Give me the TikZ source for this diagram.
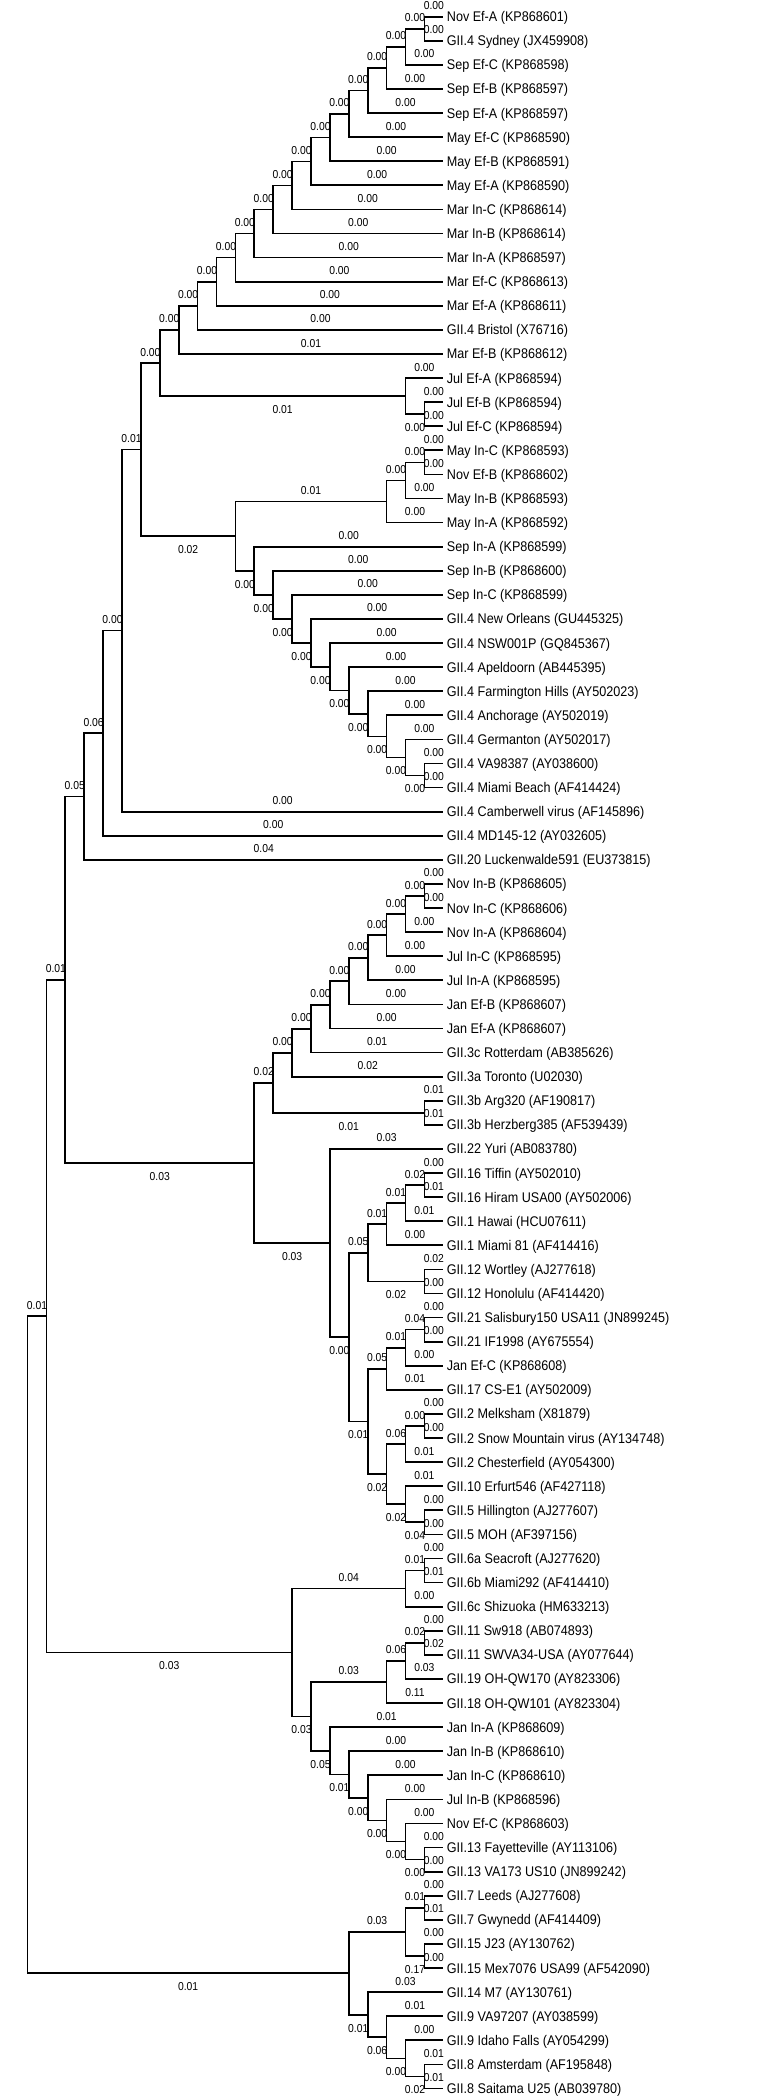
\documentclass[tikz,border=0pt]{standalone}
\usepackage{fontspec}
\setmainfont{Liberation Sans}[FakeStretch=0.9]
\usetikzlibrary{calc}
\def\LX{443.3}
\def\LS{24.09}
\def\HS{18.9}
\tikzset{
  branch/.style={line width=1.7pt},
  laba/.style={above, inner sep=0pt, yshift=6pt, font=\fontsize{11.5}{12}\selectfont},
  labb/.style={below, inner sep=0pt, yshift=-8.5pt, font=\fontsize{11.5}{12}\selectfont},
  leaftext/.style={anchor=base west, inner sep=0pt, font=\fontsize{14}{16}\selectfont}
}
\newcommand\tleaf[3]{%
  \coordinate (L#1) at (\LX, {16.7+\LS*(#1-1)});
  \node[leaftext] (T#1) at (446.7, {16.7+\LS*(#1-1)+5}) {#2 (#3)};
}
\newcommand\tnode[4]{%
  \path let \p1=(#3), \p2=(#4) in coordinate (#1) at ({\LX-\HS*#2}, {0.5*(\y1+\y2)});
}
\newcommand\tedge[4]{\draw[branch] (#1) |- (#2) node[pos=0.75, lab#4] {#3};}
\begin{document}
\begin{tikzpicture}[x=1pt,y=-1pt]
\useasboundingbox (0,0) rectangle (781,2096);
% leaves
\tleaf{1}{Nov Ef-A}{KP868601}
\tleaf{2}{GII.4 Sydney}{JX459908}
\tleaf{3}{Sep Ef-C}{KP868598}
\tleaf{4}{Sep Ef-B}{KP868597}
\tleaf{5}{Sep Ef-A}{KP868597}
\tleaf{6}{May Ef-C}{KP868590}
\tleaf{7}{May Ef-B}{KP868591}
\tleaf{8}{May Ef-A}{KP868590}
\tleaf{9}{Mar In-C}{KP868614}
\tleaf{10}{Mar In-B}{KP868614}
\tleaf{11}{Mar In-A}{KP868597}
\tleaf{12}{Mar Ef-C}{KP868613}
\tleaf{13}{Mar Ef-A}{KP868611}
\tleaf{14}{GII.4 Bristol}{X76716}
\tleaf{15}{Mar Ef-B}{KP868612}
\tleaf{16}{Jul Ef-A}{KP868594}
\tleaf{17}{Jul Ef-B}{KP868594}
\tleaf{18}{Jul Ef-C}{KP868594}
\tleaf{19}{May In-C}{KP868593}
\tleaf{20}{Nov Ef-B}{KP868602}
\tleaf{21}{May In-B}{KP868593}
\tleaf{22}{May In-A}{KP868592}
\tleaf{23}{Sep In-A}{KP868599}
\tleaf{24}{Sep In-B}{KP868600}
\tleaf{25}{Sep In-C}{KP868599}
\tleaf{26}{GII.4 New Orleans}{GU445325}
\tleaf{27}{GII.4 NSW001P}{GQ845367}
\tleaf{28}{GII.4 Apeldoorn}{AB445395}
\tleaf{29}{GII.4 Farmington Hills}{AY502023}
\tleaf{30}{GII.4 Anchorage}{AY502019}
\tleaf{31}{GII.4 Germanton}{AY502017}
\tleaf{32}{GII.4 VA98387}{AY038600}
\tleaf{33}{GII.4 Miami Beach}{AF414424}
\tleaf{34}{GII.4 Camberwell virus}{AF145896}
\tleaf{35}{GII.4 MD145-12}{AY032605}
\tleaf{36}{GII.20 Luckenwalde591}{EU373815}
\tleaf{37}{Nov In-B}{KP868605}
\tleaf{38}{Nov In-C}{KP868606}
\tleaf{39}{Nov In-A}{KP868604}
\tleaf{40}{Jul In-C}{KP868595}
\tleaf{41}{Jul In-A}{KP868595}
\tleaf{42}{Jan Ef-B}{KP868607}
\tleaf{43}{Jan Ef-A}{KP868607}
\tleaf{44}{GII.3c Rotterdam}{AB385626}
\tleaf{45}{GII.3a Toronto}{U02030}
\tleaf{46}{GII.3b Arg320}{AF190817}
\tleaf{47}{GII.3b Herzberg385}{AF539439}
\tleaf{48}{GII.22 Yuri}{AB083780}
\tleaf{49}{GII.16 Tiffin}{AY502010}
\tleaf{50}{GII.16 Hiram USA00}{AY502006}
\tleaf{51}{GII.1 Hawai}{HCU07611}
\tleaf{52}{GII.1 Miami 81}{AF414416}
\tleaf{53}{GII.12 Wortley}{AJ277618}
\tleaf{54}{GII.12 Honolulu}{AF414420}
\tleaf{55}{GII.21 Salisbury150 USA11}{JN899245}
\tleaf{56}{GII.21 IF1998}{AY675554}
\tleaf{57}{Jan Ef-C}{KP868608}
\tleaf{58}{GII.17 CS-E1}{AY502009}
\tleaf{59}{GII.2 Melksham}{X81879}
\tleaf{60}{GII.2 Snow Mountain virus}{AY134748}
\tleaf{61}{GII.2 Chesterfield}{AY054300}
\tleaf{62}{GII.10 Erfurt546}{AF427118}
\tleaf{63}{GII.5 Hillington}{AJ277607}
\tleaf{64}{GII.5 MOH}{AF397156}
\tleaf{65}{GII.6a Seacroft}{AJ277620}
\tleaf{66}{GII.6b Miami292}{AF414410}
\tleaf{67}{GII.6c Shizuoka}{HM633213}
\tleaf{68}{GII.11 Sw918}{AB074893}
\tleaf{69}{GII.11 SWVA34-USA}{AY077644}
\tleaf{70}{GII.19 OH-QW170}{AY823306}
\tleaf{71}{GII.18 OH-QW101}{AY823304}
\tleaf{72}{Jan In-A}{KP868609}
\tleaf{73}{Jan In-B}{KP868610}
\tleaf{74}{Jan In-C}{KP868610}
\tleaf{75}{Jul In-B}{KP868596}
\tleaf{76}{Nov Ef-C}{KP868603}
\tleaf{77}{GII.13 Fayetteville}{AY113106}
\tleaf{78}{GII.13 VA173 US10}{JN899242}
\tleaf{79}{GII.7 Leeds}{AJ277608}
\tleaf{80}{GII.7 Gwynedd}{AF414409}
\tleaf{81}{GII.15 J23}{AY130762}
\tleaf{82}{GII.15 Mex7076 USA99}{AF542090}
\tleaf{83}{GII.14 M7}{AY130761}
\tleaf{84}{GII.9 VA97207}{AY038599}
\tleaf{85}{GII.9 Idaho Falls}{AY054299}
\tleaf{86}{GII.8 Amsterdam}{AF195848}
\tleaf{87}{GII.8 Saitama U25}{AB039780}
% internal nodes
\tnode{a1}{1}{L1}{L2}
\tnode{a2}{2}{a1}{L3}
\tnode{a3}{3}{a2}{L4}
\tnode{a4}{4}{a3}{L5}
\tnode{a5}{5}{a4}{L6}
\tnode{a6}{6}{a5}{L7}
\tnode{a7}{7}{a6}{L8}
\tnode{a8}{8}{a7}{L9}
\tnode{a9}{9}{a8}{L10}
\tnode{a10}{10}{a9}{L11}
\tnode{a11}{11}{a10}{L12}
\tnode{a12}{12}{a11}{L13}
\tnode{a13}{13}{a12}{L14}
\tnode{a14}{14}{a13}{L15}
\tnode{b1}{1}{L17}{L18}
\tnode{b2}{2}{L16}{b1}
\tnode{a15}{15}{a14}{b2}
\tnode{c1}{1}{L19}{L20}
\tnode{c2}{2}{c1}{L21}
\tnode{c3}{3}{c2}{L22}
\tnode{d1}{1}{L32}{L33}
\tnode{d2}{2}{L31}{d1}
\tnode{d3}{3}{L30}{d2}
\tnode{d4}{4}{L29}{d3}
\tnode{d5}{5}{L28}{d4}
\tnode{d6}{6}{L27}{d5}
\tnode{d7}{7}{L26}{d6}
\tnode{d8}{8}{L25}{d7}
\tnode{d9}{9}{L24}{d8}
\tnode{d10}{10}{L23}{d9}
\tnode{e11}{11}{c3}{d10}
\tnode{a16}{16}{a15}{e11}
\tnode{a17}{17}{a16}{L34}
\tnode{a18}{18}{a17}{L35}
\tnode{a19}{19}{a18}{L36}
\tnode{f1}{1}{L37}{L38}
\tnode{f2}{2}{f1}{L39}
\tnode{f3}{3}{f2}{L40}
\tnode{f4}{4}{f3}{L41}
\tnode{f5}{5}{f4}{L42}
\tnode{f6}{6}{f5}{L43}
\tnode{f7}{7}{f6}{L44}
\tnode{f8}{8}{f7}{L45}
\tnode{g1}{1}{L46}{L47}
\tnode{f9}{9}{f8}{g1}
\tnode{i1}{1}{L49}{L50}
\tnode{i2}{2}{i1}{L51}
\tnode{i3}{3}{i2}{L52}
\tnode{j1}{1}{L53}{L54}
\tnode{i4}{4}{i3}{j1}
\tnode{k1}{1}{L55}{L56}
\tnode{k2}{2}{k1}{L57}
\tnode{k3}{3}{k2}{L58}
\tnode{m1}{1}{L59}{L60}
\tnode{m2}{2}{m1}{L61}
\tnode{n1}{1}{L63}{L64}
\tnode{n2}{2}{L62}{n1}
\tnode{m3}{3}{m2}{n2}
\tnode{k4}{4}{k3}{m3}
\tnode{i5}{5}{i4}{k4}
\tnode{i6}{6}{L48}{i5}
\tnode{f10}{10}{f9}{i6}
\tnode{p1}{1}{L65}{L66}
\tnode{p2}{2}{p1}{L67}
\tnode{q1}{1}{L68}{L69}
\tnode{q2}{2}{q1}{L70}
\tnode{q3}{3}{q2}{L71}
\tnode{r1}{1}{L77}{L78}
\tnode{r2}{2}{L76}{r1}
\tnode{r3}{3}{L75}{r2}
\tnode{r4}{4}{L74}{r3}
\tnode{r5}{5}{L73}{r4}
\tnode{r6}{6}{L72}{r5}
\tnode{s7}{7}{q3}{r6}
\tnode{s8}{8}{p2}{s7}
\tnode{t1}{1}{L79}{L80}
\tnode{u1}{1}{L81}{L82}
\tnode{t2}{2}{t1}{u1}
\tnode{v1}{1}{L86}{L87}
\tnode{v2}{2}{L85}{v1}
\tnode{v3}{3}{L84}{v2}
\tnode{v4}{4}{L83}{v3}
\tnode{w5}{5}{t2}{v4}
\tnode{N20}{20}{a19}{f10}
\tnode{N21}{21}{N20}{s8}
\tnode{R}{22}{N21}{w5}
% edges: top clade
\tedge{a1}{L1}{0.00}{a}\tedge{a1}{L2}{0.00}{a}
\tedge{a2}{a1}{0.00}{a}\tedge{a2}{L3}{0.00}{a}
\tedge{a3}{a2}{0.00}{a}\tedge{a3}{L4}{0.00}{a}
\tedge{a4}{a3}{0.00}{a}\tedge{a4}{L5}{0.00}{a}
\tedge{a5}{a4}{0.00}{a}\tedge{a5}{L6}{0.00}{a}
\tedge{a6}{a5}{0.00}{a}\tedge{a6}{L7}{0.00}{a}
\tedge{a7}{a6}{0.00}{a}\tedge{a7}{L8}{0.00}{a}
\tedge{a8}{a7}{0.00}{a}\tedge{a8}{L9}{0.00}{a}
\tedge{a9}{a8}{0.00}{a}\tedge{a9}{L10}{0.00}{a}
\tedge{a10}{a9}{0.00}{a}\tedge{a10}{L11}{0.00}{a}
\tedge{a11}{a10}{0.00}{a}\tedge{a11}{L12}{0.00}{a}
\tedge{a12}{a11}{0.00}{a}\tedge{a12}{L13}{0.00}{a}
\tedge{a13}{a12}{0.00}{a}\tedge{a13}{L14}{0.00}{a}
\tedge{a14}{a13}{0.00}{a}\tedge{a14}{L15}{0.01}{a}
\tedge{b1}{L17}{0.00}{a}\tedge{b1}{L18}{0.00}{a}
\tedge{b2}{L16}{0.00}{a}\tedge{b2}{b1}{0.00}{b}
\tedge{a15}{a14}{0.00}{a}\tedge{a15}{b2}{0.01}{b}
\tedge{c1}{L19}{0.00}{a}\tedge{c1}{L20}{0.00}{a}
\tedge{c2}{c1}{0.00}{a}\tedge{c2}{L21}{0.00}{a}
\tedge{c3}{c2}{0.00}{a}\tedge{c3}{L22}{0.00}{a}
\tedge{d1}{L32}{0.00}{a}\tedge{d1}{L33}{0.00}{a}
\tedge{d2}{L31}{0.00}{a}\tedge{d2}{d1}{0.00}{b}
\tedge{d3}{L30}{0.00}{a}\tedge{d3}{d2}{0.00}{b}
\tedge{d4}{L29}{0.00}{a}\tedge{d4}{d3}{0.00}{b}
\tedge{d5}{L28}{0.00}{a}\tedge{d5}{d4}{0.00}{b}
\tedge{d6}{L27}{0.00}{a}\tedge{d6}{d5}{0.00}{b}
\tedge{d7}{L26}{0.00}{a}\tedge{d7}{d6}{0.00}{b}
\tedge{d8}{L25}{0.00}{a}\tedge{d8}{d7}{0.00}{b}
\tedge{d9}{L24}{0.00}{a}\tedge{d9}{d8}{0.00}{b}
\tedge{d10}{L23}{0.00}{a}\tedge{d10}{d9}{0.00}{b}
\tedge{e11}{c3}{0.01}{a}\tedge{e11}{d10}{0.00}{b}
\tedge{a16}{a15}{0.00}{a}\tedge{a16}{e11}{0.02}{b}
\tedge{a17}{a16}{0.01}{a}\tedge{a17}{L34}{0.00}{a}
\tedge{a18}{a17}{0.00}{a}\tedge{a18}{L35}{0.00}{a}
\tedge{a19}{a18}{0.06}{a}\tedge{a19}{L36}{0.04}{a}
% clade B
\tedge{f1}{L37}{0.00}{a}\tedge{f1}{L38}{0.00}{a}
\tedge{f2}{f1}{0.00}{a}\tedge{f2}{L39}{0.00}{a}
\tedge{f3}{f2}{0.00}{a}\tedge{f3}{L40}{0.00}{a}
\tedge{f4}{f3}{0.00}{a}\tedge{f4}{L41}{0.00}{a}
\tedge{f5}{f4}{0.00}{a}\tedge{f5}{L42}{0.00}{a}
\tedge{f6}{f5}{0.00}{a}\tedge{f6}{L43}{0.00}{a}
\tedge{f7}{f6}{0.00}{a}\tedge{f7}{L44}{0.01}{a}
\tedge{f8}{f7}{0.00}{a}\tedge{f8}{L45}{0.02}{a}
\tedge{g1}{L46}{0.01}{a}\tedge{g1}{L47}{0.01}{a}
\tedge{f9}{f8}{0.00}{a}\tedge{f9}{g1}{0.01}{b}
\tedge{i1}{L49}{0.00}{a}\tedge{i1}{L50}{0.01}{a}
\tedge{i2}{i1}{0.02}{a}\tedge{i2}{L51}{0.01}{a}
\tedge{i3}{i2}{0.01}{a}\tedge{i3}{L52}{0.00}{a}
\tedge{j1}{L53}{0.02}{a}\tedge{j1}{L54}{0.00}{a}
\tedge{i4}{i3}{0.01}{a}\tedge{i4}{j1}{0.02}{b}
\tedge{k1}{L55}{0.00}{a}\tedge{k1}{L56}{0.00}{a}
\tedge{k2}{k1}{0.04}{a}\tedge{k2}{L57}{0.00}{a}
\tedge{k3}{k2}{0.01}{a}\tedge{k3}{L58}{0.01}{a}
\tedge{m1}{L59}{0.00}{a}\tedge{m1}{L60}{0.00}{a}
\tedge{m2}{m1}{0.00}{a}\tedge{m2}{L61}{0.01}{a}
\tedge{n1}{L63}{0.00}{a}\tedge{n1}{L64}{0.00}{a}
\tedge{n2}{L62}{0.01}{a}\tedge{n2}{n1}{0.04}{b}
\tedge{m3}{m2}{0.06}{a}\tedge{m3}{n2}{0.02}{b}
\tedge{k4}{k3}{0.05}{a}\tedge{k4}{m3}{0.02}{b}
\tedge{i5}{i4}{0.05}{a}\tedge{i5}{k4}{0.01}{b}
\tedge{i6}{L48}{0.03}{a}\tedge{i6}{i5}{0.00}{b}
\tedge{f10}{f9}{0.02}{a}\tedge{f10}{i6}{0.03}{b}
% clade C
\tedge{p1}{L65}{0.00}{a}\tedge{p1}{L66}{0.01}{a}
\tedge{p2}{p1}{0.01}{a}\tedge{p2}{L67}{0.00}{a}
\tedge{q1}{L68}{0.00}{a}\tedge{q1}{L69}{0.02}{a}
\tedge{q2}{q1}{0.02}{a}\tedge{q2}{L70}{0.03}{a}
\tedge{q3}{q2}{0.06}{a}\tedge{q3}{L71}{0.11}{a}
\tedge{r1}{L77}{0.00}{a}\tedge{r1}{L78}{0.00}{a}
\tedge{r2}{L76}{0.00}{a}\tedge{r2}{r1}{0.00}{b}
\tedge{r3}{L75}{0.00}{a}\tedge{r3}{r2}{0.00}{b}
\tedge{r4}{L74}{0.00}{a}\tedge{r4}{r3}{0.00}{b}
\tedge{r5}{L73}{0.00}{a}\tedge{r5}{r4}{0.00}{b}
\tedge{r6}{L72}{0.01}{a}\tedge{r6}{r5}{0.01}{b}
\tedge{s7}{q3}{0.03}{a}\tedge{s7}{r6}{0.05}{b}
\tedge{s8}{p2}{0.04}{a}\tedge{s8}{s7}{0.03}{b}
% clade D
\tedge{t1}{L79}{0.00}{a}\tedge{t1}{L80}{0.01}{a}
\tedge{u1}{L81}{0.00}{a}\tedge{u1}{L82}{0.00}{a}
\tedge{t2}{t1}{0.01}{a}\tedge{t2}{u1}{0.17}{b}
\tedge{v1}{L86}{0.01}{a}\tedge{v1}{L87}{0.01}{a}
\tedge{v2}{L85}{0.00}{a}\tedge{v2}{v1}{0.02}{b}
\tedge{v3}{L84}{0.01}{a}\tedge{v3}{v2}{0.00}{b}
\tedge{v4}{L83}{0.03}{a}\tedge{v4}{v3}{0.06}{b}
\tedge{w5}{t2}{0.03}{a}\tedge{w5}{v4}{0.01}{b}
% backbone
\tedge{N20}{a19}{0.05}{a}\tedge{N20}{f10}{0.03}{b}
\tedge{N21}{N20}{0.01}{a}\tedge{N21}{s8}{0.03}{b}
\tedge{R}{N21}{0.01}{a}\tedge{R}{w5}{0.01}{b}
\end{tikzpicture}
\end{document}
